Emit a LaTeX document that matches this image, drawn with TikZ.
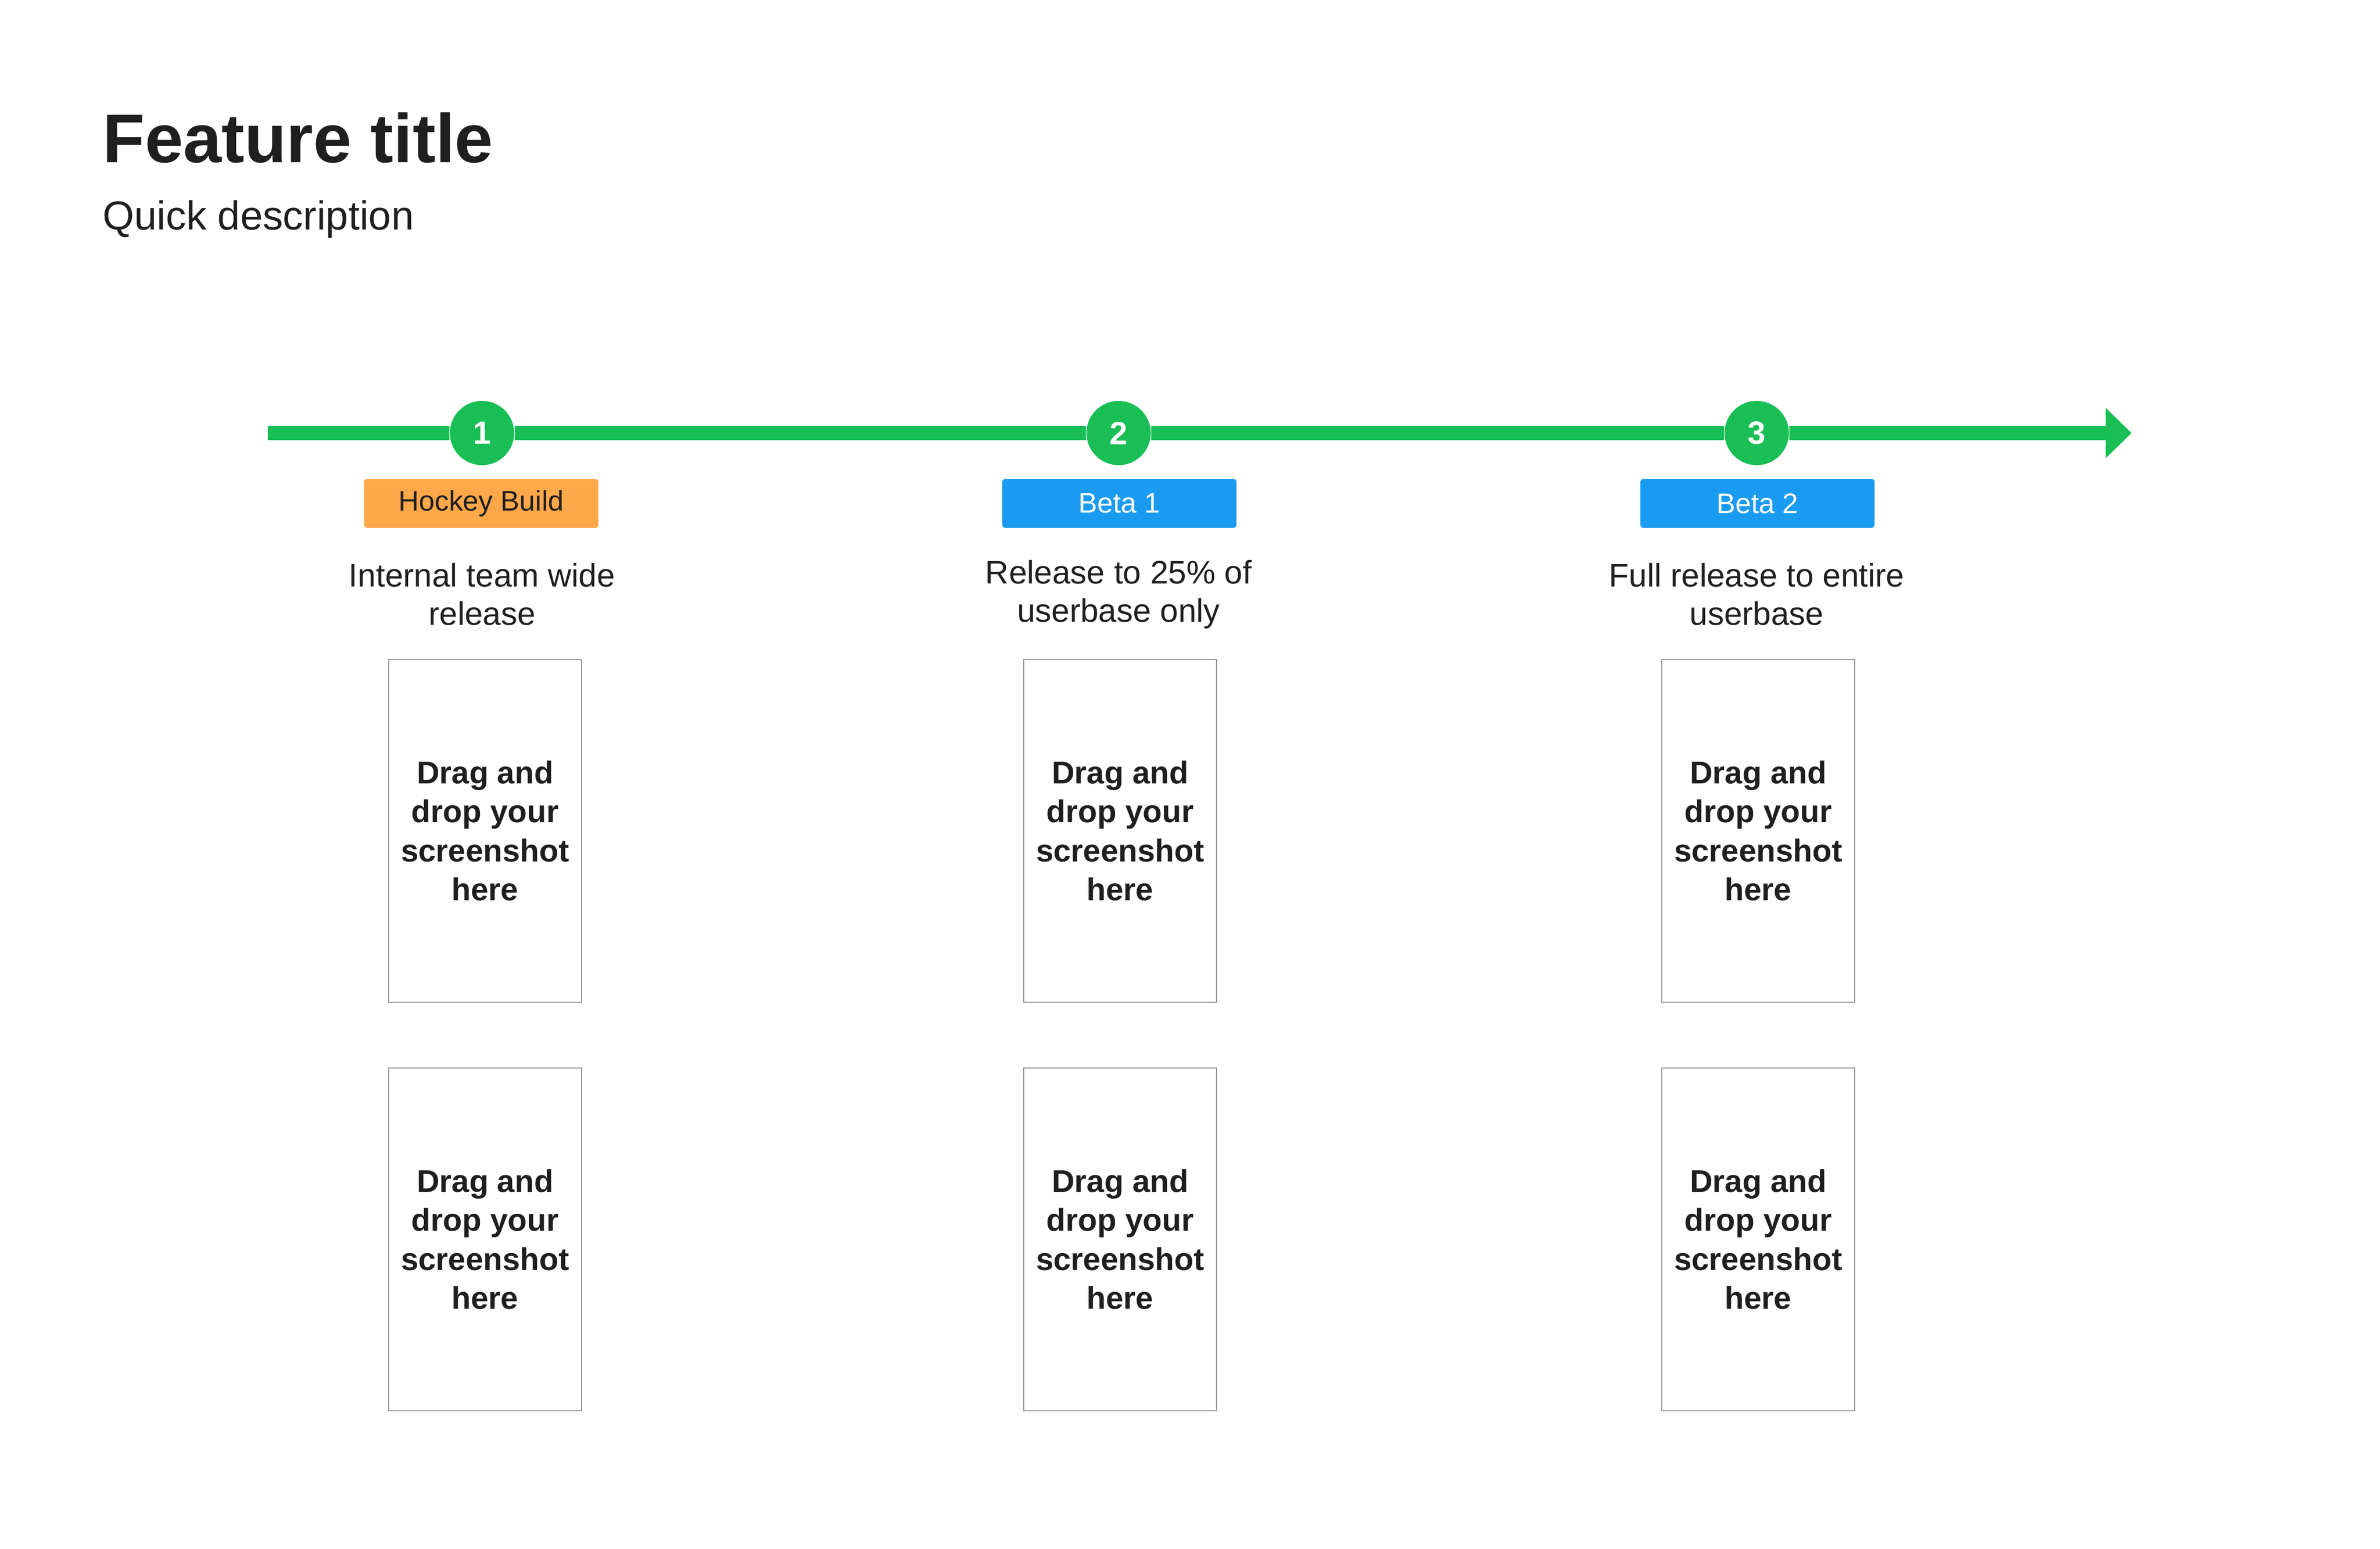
\documentclass[tikz,border=0pt]{standalone}
\usepackage{fontspec}
\setmainfont{Liberation Sans}
\usepackage{tikz}
\usetikzlibrary{arrows.meta}

\definecolor{lineGreen}{RGB}{25,191,85}
\definecolor{tagOrange}{RGB}{255,168,74}
\definecolor{tagBlue}{RGB}{26,155,242}
\definecolor{textDark}{RGB}{31,31,31}
\definecolor{shotGray}{RGB}{150,150,150}

\begin{document}
\begin{tikzpicture}[x=1pt,y=-1pt,
    stepdot/.style={circle,fill=lineGreen,minimum size=42pt,inner sep=0pt,text=white,font=\fontsize{21}{21}\selectfont\bfseries},
    tag/.style={rounded corners=2pt,minimum width=153pt,minimum height=32pt,inner sep=0pt,font=\fontsize{18.5}{20}\selectfont},
    caption/.style={align=center,text=textDark,font=\fontsize{21.3}{25}\selectfont},
    shot/.style={draw=shotGray,line width=0.45pt,minimum width=126pt,minimum height=224pt,inner sep=0pt,align=center,text=textDark,font=\fontsize{20.6}{25.5}\selectfont\bfseries}]
    \useasboundingbox (0,0) rectangle (1555.33,1012);
    % header
    \node[anchor=base west,inner sep=0pt,text=textDark,font=\fontsize{45}{45}\selectfont\bfseries] (title) at (67,106) {Feature title};
    \node[anchor=base west,inner sep=0pt,text=textDark,font=\fontsize{26.5}{27}\selectfont] (subtitle) at (67,150) {Quick description};
    % timeline
    \coordinate (tlstart) at (175,283);
    \coordinate (tlend) at (1393,283);
    \node[stepdot] (s1) at (315,283) {1};
    \node[stepdot] (s2) at (731,283) {2};
    \node[stepdot] (s3) at (1148,283) {3};
    \draw[lineGreen,line width=9.5pt,-{Triangle[length=17pt,width=32pt]}] (tlstart) -- (s1) -- (s2) -- (s3) -- (tlend);
    % tags
    \node[tag,fill=tagOrange,text=textDark] (tag1) at (314.5,329) {Hockey Build};
    \node[tag,fill=tagBlue,text=white] (tag2) at (731.5,329) {Beta 1};
    \node[tag,fill=tagBlue,text=white] (tag3) at (1148.5,329) {Beta 2};
    % captions
    \node[caption] (cap1) at (315,388.5) {Internal team wide\\release};
    \node[caption] (cap2) at (731,388.5) {Release to 25\% of\\userbase only};
    \node[caption] (cap3) at (1148,388.5) {Full release to entire\\userbase};
    % screenshots
    \node[shot] (shot1a) at (317,543) {Drag and\\drop your\\screenshot\\here};
    \node[shot] (shot2a) at (732,543) {Drag and\\drop your\\screenshot\\here};
    \node[shot] (shot3a) at (1149,543) {Drag and\\drop your\\screenshot\\here};
    \node[shot] (shot1b) at (317,810) {Drag and\\drop your\\screenshot\\here};
    \node[shot] (shot2b) at (732,810) {Drag and\\drop your\\screenshot\\here};
    \node[shot] (shot3b) at (1149,810) {Drag and\\drop your\\screenshot\\here};
\end{tikzpicture}
\end{document}
